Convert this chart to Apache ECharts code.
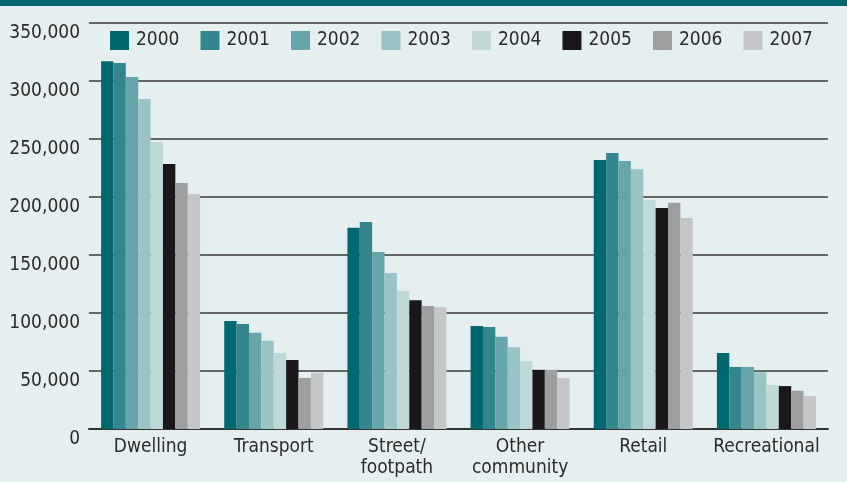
<!DOCTYPE html>
<html>
<head>
<meta charset="utf-8">
<script src="https://cdn.jsdelivr.net/npm/echarts@6/dist/echarts.min.js"></script>
<style>
  html, body { margin: 0; padding: 0; background: #e6eff0; }
  #chart { width: 847px; height: 482px; }
</style>
</head>
<body>
<div id="chart"></div>
<script>
  // categories and yearly values
  const categories = ['Dwelling', 'Transport', 'Street/\nfootpath', 'Other\ncommunity', 'Retail', 'Recreational']
  const years = ['2000', '2001', '2002', '2003', '2004', '2005', '2006', '2007']
  const colors = ['#00686f', '#33878c', '#66a5a9', '#99c3c5', '#bfd9d9', '#1a171b', '#9d9e9f', '#c5c6c8']

  const v2000 = [317000, 93000, 173500, 88800, 232000, 65500]
  const v2001 = [315500, 90500, 178500, 88000, 238000, 53500]
  const v2002 = [303500, 83000, 152500, 79500, 231000, 53500]
  const v2003 = [284500, 76000, 134500, 70500, 224000, 49000]
  const v2004 = [247500, 65500, 119000, 58500, 197500, 38000]
  const v2005 = [228500, 59500, 111000, 51000, 190500, 37000]
  const v2006 = [212000, 44000, 106000, 51000, 195000, 33000]
  const v2007 = [202500, 48500, 105000, 44000, 182000, 28500]
  const values = [v2000, v2001, v2002, v2003, v2004, v2005, v2006, v2007]

  const font = "'DejaVu Sans Condensed', 'Liberation Sans Narrow', Arial, sans-serif"
  const textColor = '#2b2b2b'

  const chart = echarts.init(document.getElementById('chart'))
  chart.setOption({
    backgroundColor: '#e6eff0',
    animation: false,
    textStyle: { fontFamily: font },
    graphic: [{
      type: 'rect',
      shape: { x: 0, y: 0, width: 847, height: 6 },
      style: { fill: '#00686f' }
    }],
    grid: {
      left: 89,
      right: 19,
      top: 23,
      bottom: 53
    },
    legend: {
      left: 110,
      top: 31,
      width: 737,
      padding: 0,
      itemWidth: 19,
      itemHeight: 19,
      itemGap: 21,
      icon: 'rect',
      textStyle: {
        color: textColor,
        fontSize: 19,
        fontFamily: font,
        padding: [0, 0, 0, 2]
      },
      data: years
    },
    xAxis: {
      type: 'category',
      data: categories,
      axisLine: { lineStyle: { color: '#333', width: 2 } },
      axisTick: { show: false },
      axisLabel: {
        color: textColor,
        fontSize: 19,
        fontFamily: font,
        margin: 8,
        lineHeight: 21,
        interval: 0
      }
    },
    yAxis: {
      type: 'value',
      min: 0,
      max: 350000,
      interval: 50000,
      axisLine: { show: false },
      axisTick: { show: false },
      splitLine: { lineStyle: { color: '#3a3a3a', width: 1.5 } },
      axisLabel: {
        color: textColor,
        fontSize: 19,
        fontFamily: font,
        margin: 9,
        verticalAlign: 'top',
        padding: [1, 0, 0, 0],
        formatter(v) {
          return v.toLocaleString('en-US')
        }
      }
    },
    series: years.map((y, i) => ({
      name: y,
      type: 'bar',
      data: values[i],
      barGap: '0%',
      barCategoryGap: '19.6%',
      itemStyle: { color: colors[i] }
    }))
  })
</script>
</body>
</html>
